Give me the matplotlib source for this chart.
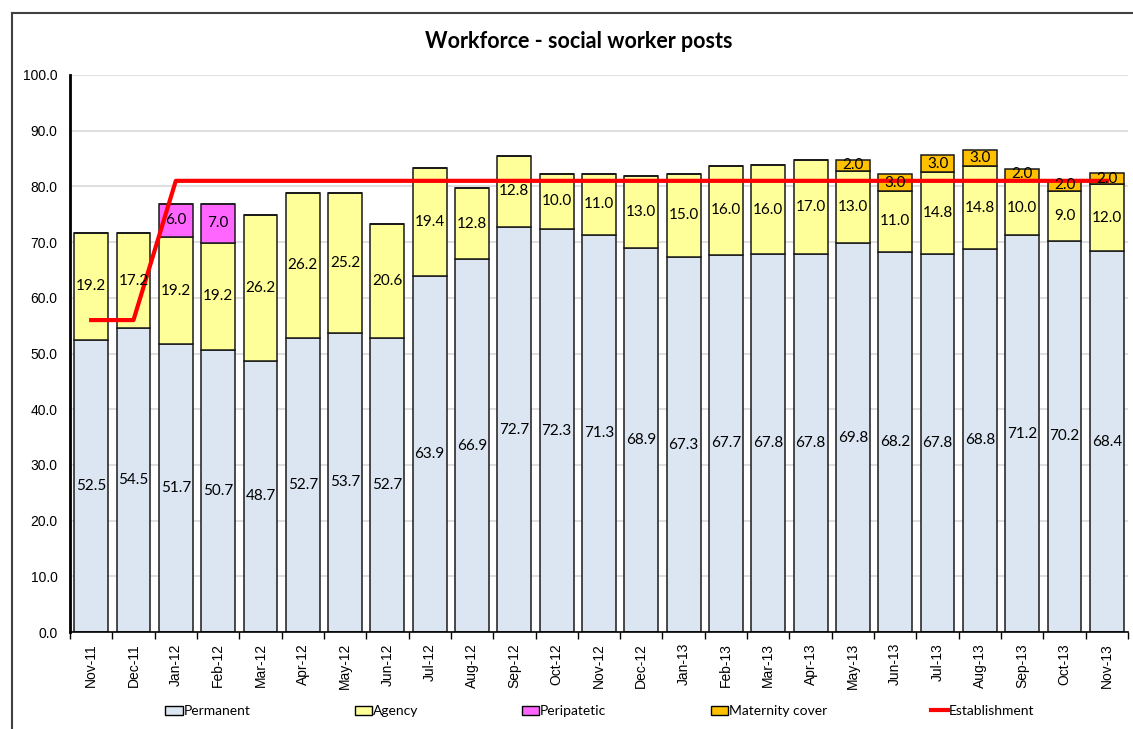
import numpy as np
import matplotlib
matplotlib.use("Agg")
import matplotlib.pyplot as plt
from matplotlib.lines import Line2D
from matplotlib.patches import Patch

months = ["Nov-11", "Dec-11", "Jan-12", "Feb-12", "Mar-12", "Apr-12", "May-12", "Jun-12",
          "Jul-12", "Aug-12", "Sep-12", "Oct-12", "Nov-12", "Dec-12", "Jan-13", "Feb-13",
          "Mar-13", "Apr-13", "May-13", "Jun-13", "Jul-13", "Aug-13", "Sep-13", "Oct-13", "Nov-13"]
permanent = [52.5, 54.5, 51.7, 50.7, 48.7, 52.7, 53.7, 52.7, 63.9, 66.9, 72.7, 72.3, 71.3,
             68.9, 67.3, 67.7, 67.8, 67.8, 69.8, 68.2, 67.8, 68.8, 71.2, 70.2, 68.4]
agency = [19.2, 17.2, 19.2, 19.2, 26.2, 26.2, 25.2, 20.6, 19.4, 12.8, 12.8, 10.0, 11.0,
          13.0, 15.0, 16.0, 16.0, 17.0, 13.0, 11.0, 14.8, 14.8, 10.0, 9.0, 12.0]
peripatetic = [0, 0, 6.0, 7.0, 0, 0, 0, 0, 0, 0, 0, 0, 0,
               0, 0, 0, 0, 0, 0, 0, 0, 0, 0, 0, 0]
maternity = [0, 0, 0, 0, 0, 0, 0, 0, 0, 0, 0, 0, 0,
             0, 0, 0, 0, 0, 2.0, 3.0, 3.0, 3.0, 2.0, 2.0, 2.0]
establishment = [56, 56, 81, 81, 81, 81, 81, 81, 81, 81, 81, 81, 81,
                 81, 81, 81, 81, 81, 81, 81, 81, 81, 81, 81, 81]

label_font = "Lato"
tick_font = "Liberation Sans"

fig = plt.figure(figsize=(11.33, 7.29), dpi=100)
ax = fig.add_axes([70 / 1133, 1 - 632 / 729, (1128 - 70) / 1133, (632 - 75) / 729])

x = np.arange(len(months))
series = [
    ("Permanent", permanent, "#dce6f2"),
    ("Agency", agency, "#ffff99"),
    ("Peripatetic", peripatetic, "#ff66ff"),
    ("Maternity cover", maternity, "#ffc000"),
]

bottom = np.zeros(len(months))
for name, vals, col in series:
    vals = np.array(vals, dtype=float)
    ax.bar(x, vals, 0.8, bottom=bottom, color=col, edgecolor="#1a1a1a",
           linewidth=1.1, zorder=2)
    for xi, b, v in zip(x, bottom, vals):
        if v > 0:
            ax.text(xi, b + v / 2, f"{v:.1f}", ha="center", va="center",
                    fontsize=11, family=label_font, color="black", zorder=5)
    bottom += vals

ax.plot(x, establishment, color="#ff0000", linewidth=3, zorder=4)

ax.set_xlim(-0.5, len(months) - 0.5)
ax.set_ylim(0, 100)
ax.set_yticks(np.arange(0, 101, 10))
ax.set_yticklabels([f"{v:.1f}" for v in np.arange(0, 101, 10)],
                   fontsize=10, family=tick_font)
ax.yaxis.grid(True, color="#d9d9d9", linewidth=1.2, zorder=0)
ax.set_axisbelow(True)
ax.tick_params(axis="y", length=0, pad=9)

ax.set_xticks(x)
ax.set_xticklabels(months, rotation=90, fontsize=10, family=tick_font)
ax.tick_params(axis="x", length=0, pad=8)
ax.set_xticks(np.arange(-0.5, len(months), 1), minor=True)
ax.tick_params(axis="x", which="minor", length=5, width=1, direction="out")

for s in ["top", "right"]:
    ax.spines[s].set_visible(False)
ax.spines["left"].set_linewidth(2)
ax.spines["bottom"].set_linewidth(1.2)

fig.text(579 / 1133, 1 - 42 / 729, "Workforce - social worker posts", ha="center",
         va="center", fontsize=15.5, fontweight="bold", family=label_font)

handles = [Patch(facecolor=c, edgecolor="black", linewidth=1, label=n) for n, _, c in series]
handles.append(Line2D([0], [0], color="#ff0000", linewidth=3, label="Establishment"))
fig.legend(handles=handles, loc="center", bbox_to_anchor=(600 / 1133, 1 - 711 / 729),
           ncol=5, frameon=False, handlelength=1.25, handleheight=0.6,
           handletextpad=0.05, columnspacing=7.5, prop={"family": label_font, "size": 10})

# chart frame
fig.add_artist(Line2D([12 / 1133, 1], [1 - 13 / 729] * 2, color="#404040", linewidth=1.5))
fig.add_artist(Line2D([12 / 1133] * 2, [0, 1 - 13 / 729], color="#404040", linewidth=1.5))

fig.savefig("out.png", dpi=100)
